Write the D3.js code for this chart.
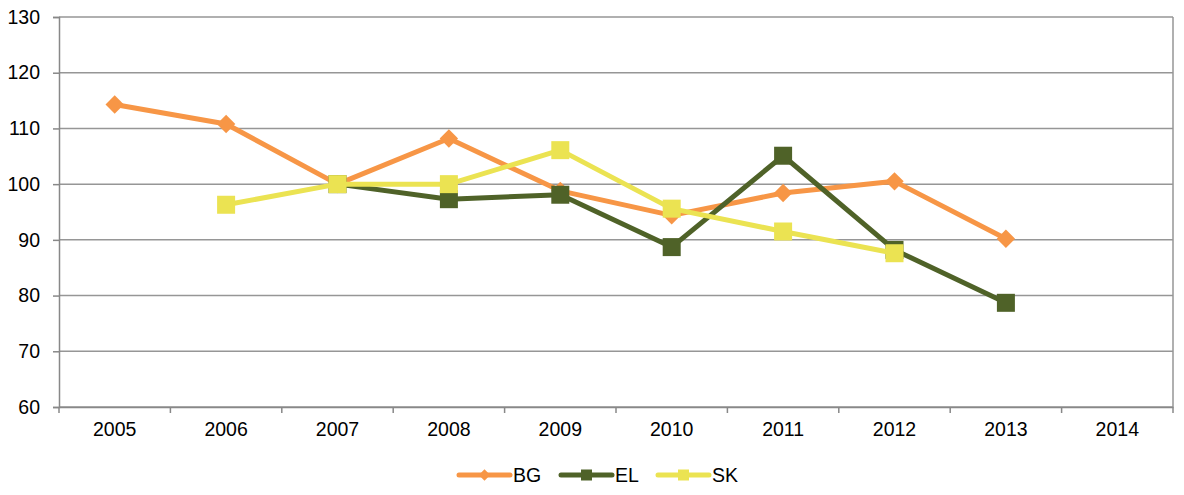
<!DOCTYPE html>
<html>
<head>
<meta charset="utf-8">
<script src="https://cdn.jsdelivr.net/npm/d3@7"></script>
<style>
  body { margin: 0; background: #fff; }
  svg text { font-family: "Liberation Sans", Arial, sans-serif; fill: #000; }
</style>
</head>
<body>
<svg id="chart" width="1184" height="495"></svg>
<script>
// data
const years = ["2005", "2006", "2007", "2008", "2009", "2010", "2011", "2012", "2013", "2014"];
const bgValues = [114.3, 110.8, 100, 108.2, 98.8, 94.4, 98.4, 100.5, 90.2, null];
const elValues = [null, null, 100, 97.3, 98.1, 88.7, 105.1, 88.2, 78.7, null];
const skValues = [null, 96.3, 100, 100, 106.1, 95.6, 91.5, 87.6, null, null];
const yTicks = [60, 70, 80, 90, 100, 110, 120, 130];

const series = [
    { name: "BG", values: bgValues, color: "#f79646", marker: "diamond" },
    { name: "EL", values: elValues, color: "#4f6228", marker: "square" },
    { name: "SK", values: skValues, color: "#ebe352", marker: "square" }
];

const margin = { top: 17, right: 11, bottom: 88, left: 59 };
const width = 1184 - margin.left - margin.right;
const height = 495 - margin.top - margin.bottom;
const fontSize = "19.5px";

const svg = d3.select("#chart")
    .append("g")
    .attr("transform", `translate(${margin.left},${margin.top})`);

const x = d3.scaleBand().domain(years).range([0, width]);
const y = d3.scaleLinear().domain([60, 130]).range([height, 0]);

// 그리드
svg.append("g")
    .selectAll("line")
    .data(yTicks)
    .enter().append("line")
    .attr("x1", 0).attr("x2", width)
    .attr("y1", d => y(d)).attr("y2", d => y(d))
    .attr("stroke", "#969696")
    .attr("stroke-width", 1.5);

// right border
svg.append("line")
    .attr("x1", width).attr("x2", width)
    .attr("y1", 0).attr("y2", height)
    .attr("stroke", "#969696").attr("stroke-width", 1.5);

// y axis
const yAxis = svg.append("g")
    .call(d3.axisLeft(y).tickValues(yTicks).tickSize(6).tickPadding(13));
yAxis.selectAll("text").style("font-size", fontSize);

// x axis
const xAxis = svg.append("g")
    .attr("transform", `translate(0,${height})`)
    .call(d3.axisBottom(x).tickSize(0).tickPadding(15));
xAxis.selectAll("text").style("font-size", fontSize);
// tick marks between categories
xAxis.selectAll(".sep")
    .data(d3.range(years.length + 1))
    .enter().append("line")
    .attr("class", "sep")
    .attr("x1", i => i * x.bandwidth()).attr("x2", i => i * x.bandwidth())
    .attr("y1", 0).attr("y2", 6)
    .attr("stroke", "#888").attr("stroke-width", 1.5);

[yAxis, xAxis].forEach(a => {
    a.select(".domain").attr("stroke", "#888").attr("stroke-width", 1.5);
    a.selectAll(".tick line").attr("stroke", "#888").attr("stroke-width", 1.5);
});

const cx = d => x(d) + x.bandwidth() / 2;

const line = d3.line()
    .defined(d => d.v != null)
    .x(d => cx(d.year))
    .y(d => y(d.v));

function drawMarker(g, kind, color, size) {
    if (kind === "diamond") {
        g.append("path")
            .attr("d", d3.symbol(d3.symbolSquare, size * size).apply())
            .attr("transform", "rotate(45)")
            .attr("fill", color);
    } else {
        g.append("rect")
            .attr("x", -size / 2).attr("y", -size / 2)
            .attr("width", size).attr("height", size)
            .attr("fill", color);
    }
}

series.forEach(s => {
    const pts = years.map((yr, i) => ({ year: yr, v: s.values[i] }));
    svg.append("path")
        .datum(pts)
        .attr("d", line)
        .attr("fill", "none")
        .attr("stroke", s.color)
        .attr("stroke-width", 5)
        .attr("stroke-linejoin", "round");
    pts.filter(p => p.v != null).forEach(p => {
        const g = svg.append("g").attr("transform", `translate(${cx(p.year)},${y(p.v)})`);
        drawMarker(g, s.marker, s.color, s.marker === "diamond" ? 13 : 18);
    });
});

// 범례
const legendX = [459, 561, 658];
const legendY = 475;
const legend = d3.select("#chart").selectAll(".legend")
    .data(series)
    .enter().append("g")
    .attr("class", "legend")
    .attr("transform", (d, i) => `translate(${legendX[i]},${legendY})`);

legend.append("line")
    .attr("x1", 0).attr("x2", 51)
    .attr("y1", 0).attr("y2", 0)
    .attr("stroke", d => d.color)
    .attr("stroke-width", 5)
    .attr("stroke-linecap", "round");
legend.each(function (d) {
    const g = d3.select(this).append("g").attr("transform", "translate(25.5,0)");
    drawMarker(g, d.marker, d.color, d.marker === "diamond" ? 8 : 11);
});
legend.append("text")
    .attr("x", 54)
    .attr("y", 0)
    .attr("dy", "0.36em")
    .style("font-size", fontSize)
    .text(d => d.name);
</script>
</body>
</html>
